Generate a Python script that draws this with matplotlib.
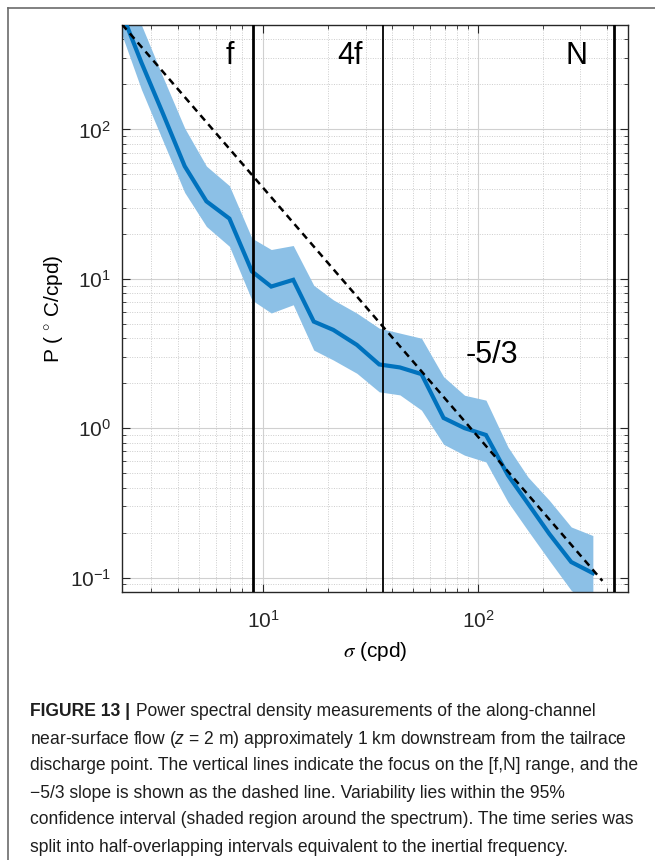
"""Power spectral density, near-surface along-channel flow (Figure 13)."""
import matplotlib
matplotlib.use("Agg")
import matplotlib.pyplot as plt
from matplotlib import ticker, font_manager

# spectrum (log-spaced bins), 95% confidence band
sigma = [2.15, 2.71, 3.41, 4.31, 5.44, 6.96, 8.86, 10.9, 13.8, 17.2, 21.2, 27.3,
         34.7, 43.3, 54.6, 69.2, 86.7, 109, 138, 171, 215, 272, 343]
psd = [650, 280, 128, 56.7, 33.0, 25.3, 11.2, 8.87, 9.84, 5.17, 4.55, 3.61,
       2.67, 2.55, 2.30, 1.17, 1.00, 0.90, 0.484, 0.313, 0.196, 0.127, 0.107]
psd_hi = [1150, 500, 225, 102, 56.8, 42, 18.7, 15.7, 16.7, 9.04, 7.23, 5.89,
          4.67, 4.33, 4.00, 2.21, 1.66, 1.54, 0.748, 0.471, 0.329, 0.218, 0.191]
psd_lo = [470, 185, 84, 37.8, 22.4, 16.5, 7.2, 5.9, 6.7, 3.33, 2.86, 2.33,
          1.75, 1.67, 1.32, 0.78, 0.659, 0.594, 0.32, 0.206, 0.13, 0.082, 0.063]

# -5/3 reference slope (end points)
slope_sigma = [2.2, 380]
slope_p = [505, 0.095]

# f, 4f, N frequencies (cpd)
f_lines = [9.0, 36.0, 430.0]
f_labels = ["f", "4f", "N"]
f_label_x = [7.0, 25.3, 288]

caption = [
    "near-surface flow ($z$ = 2 m) approximately 1 km downstream from the tailrace",
    "discharge point. The vertical lines indicate the focus on the [f,N] range, and the",
    "\u22125/3 slope is shown as the dashed line. Variability lies within the 95%",
    "confidence interval (shaded region around the spectrum). The time series was",
    "split into half-overlapping intervals equivalent to the inertial frequency.",
]
caption_head_bold = "FIGURE 13 |"
caption_head = "Power spectral density measurements of the along-channel"

names = {f.name for f in font_manager.fontManager.ttflist}
cap_font = "Liberation Sans Narrow" if "Liberation Sans Narrow" in names else "Liberation Sans"

plt.rcParams["font.family"] = ["Liberation Sans", "DejaVu Sans"]
plt.rcParams["mathtext.fontset"] = "custom"
plt.rcParams["mathtext.rm"] = "Liberation Sans"
plt.rcParams["mathtext.it"] = "Liberation Sans:italic"
plt.rcParams["axes.unicode_minus"] = False

W, H = 655, 860
fig = plt.figure(figsize=(W / 100, H / 100), dpi=100)
ax = fig.add_axes([122 / W, 1 - 592 / H, (628 - 122) / W, (592 - 25) / H])

ax.fill_between(sigma, psd_lo, psd_hi, color="#8cc0e6", lw=0, zorder=2)
ax.plot(sigma, psd, color="#0072BD", lw=3.0, zorder=3, solid_joinstyle="miter")
ax.plot(slope_sigma, slope_p, color="black", lw=1.8, dashes=(2.8, 2.0), zorder=4)

for x, lw in zip(f_lines, [2.0, 1.3, 2.0]):
    ax.axvline(x, color="black", lw=lw, zorder=5)
for x, lab in zip(f_label_x, f_labels):
    ax.text(x, 310, lab, fontsize=22, ha="center", va="center", zorder=6)
ax.text(116, 3.1, "-5/3", fontsize=22, ha="center", va="center", zorder=6)

ax.set_xscale("log")
ax.set_yscale("log")
ax.set_xlim(2.2, 500)
ax.set_ylim(0.08, 500)
ax.xaxis.set_minor_formatter(ticker.NullFormatter())
ax.yaxis.set_minor_formatter(ticker.NullFormatter())
ax.grid(True, which="major", color="#d0d0d0", lw=0.8, zorder=0)
ax.grid(True, which="minor", color="#cccccc", lw=0.7, ls=(0, (1, 1.5)), zorder=0)
ax.set_axisbelow(True)
ax.tick_params(which="both", direction="in", top=True, right=True,
               labelsize=15, colors="#262626")
ax.tick_params(which="major", length=6, width=0.8)
ax.tick_params(which="minor", length=3, width=0.6)
ax.tick_params(axis="x", which="major", pad=13)
ax.tick_params(axis="y", which="major", pad=8)
for s in ax.spines.values():
    s.set_color("#262626")
    s.set_linewidth(1.0)

ax.set_xlabel(r"$\sigma$ (cpd)", fontsize=15, labelpad=6, math_fontfamily="stix")
ax.set_ylabel(r"P ( $^{\circ}$ C/cpd)", fontsize=15, labelpad=3)

# outer frame of the figure panel
fig.add_artist(plt.Line2D([8 / W, 8 / W], [0, 1 - 8 / H], color="#6b6b6b", lw=1.2))
fig.add_artist(plt.Line2D([8 / W, 1], [1 - 8 / H, 1 - 8 / H], color="#6b6b6b", lw=1.2))

# caption: fit longest line to the reference width
fig.canvas.draw()
r = fig.canvas.get_renderer()
probe = fig.text(0, 0, caption[1], fontsize=12, family=cap_font)
wpx = probe.get_window_extent(r).width
probe.remove()
cap_size = 12 * 612 / wpx

x0, y0, dy = 30 / W, 1 - 712 / H, 27 / H
tb = fig.text(x0, y0, caption_head_bold, fontsize=cap_size, family=cap_font,
              weight="bold", va="center", color="#1e1e1e")
ax.annotate(caption_head, xy=(1, 0.5), xycoords=tb, xytext=(4, 0),
            textcoords="offset points", va="center", fontsize=cap_size,
            family=cap_font, color="#1e1e1e", annotation_clip=False)
for i, line in enumerate(caption):
    fig.text(x0, y0 - (i + 1) * dy, line, fontsize=cap_size, family=cap_font,
             va="center", color="#1e1e1e")

fig.savefig("out.png", dpi=100)
